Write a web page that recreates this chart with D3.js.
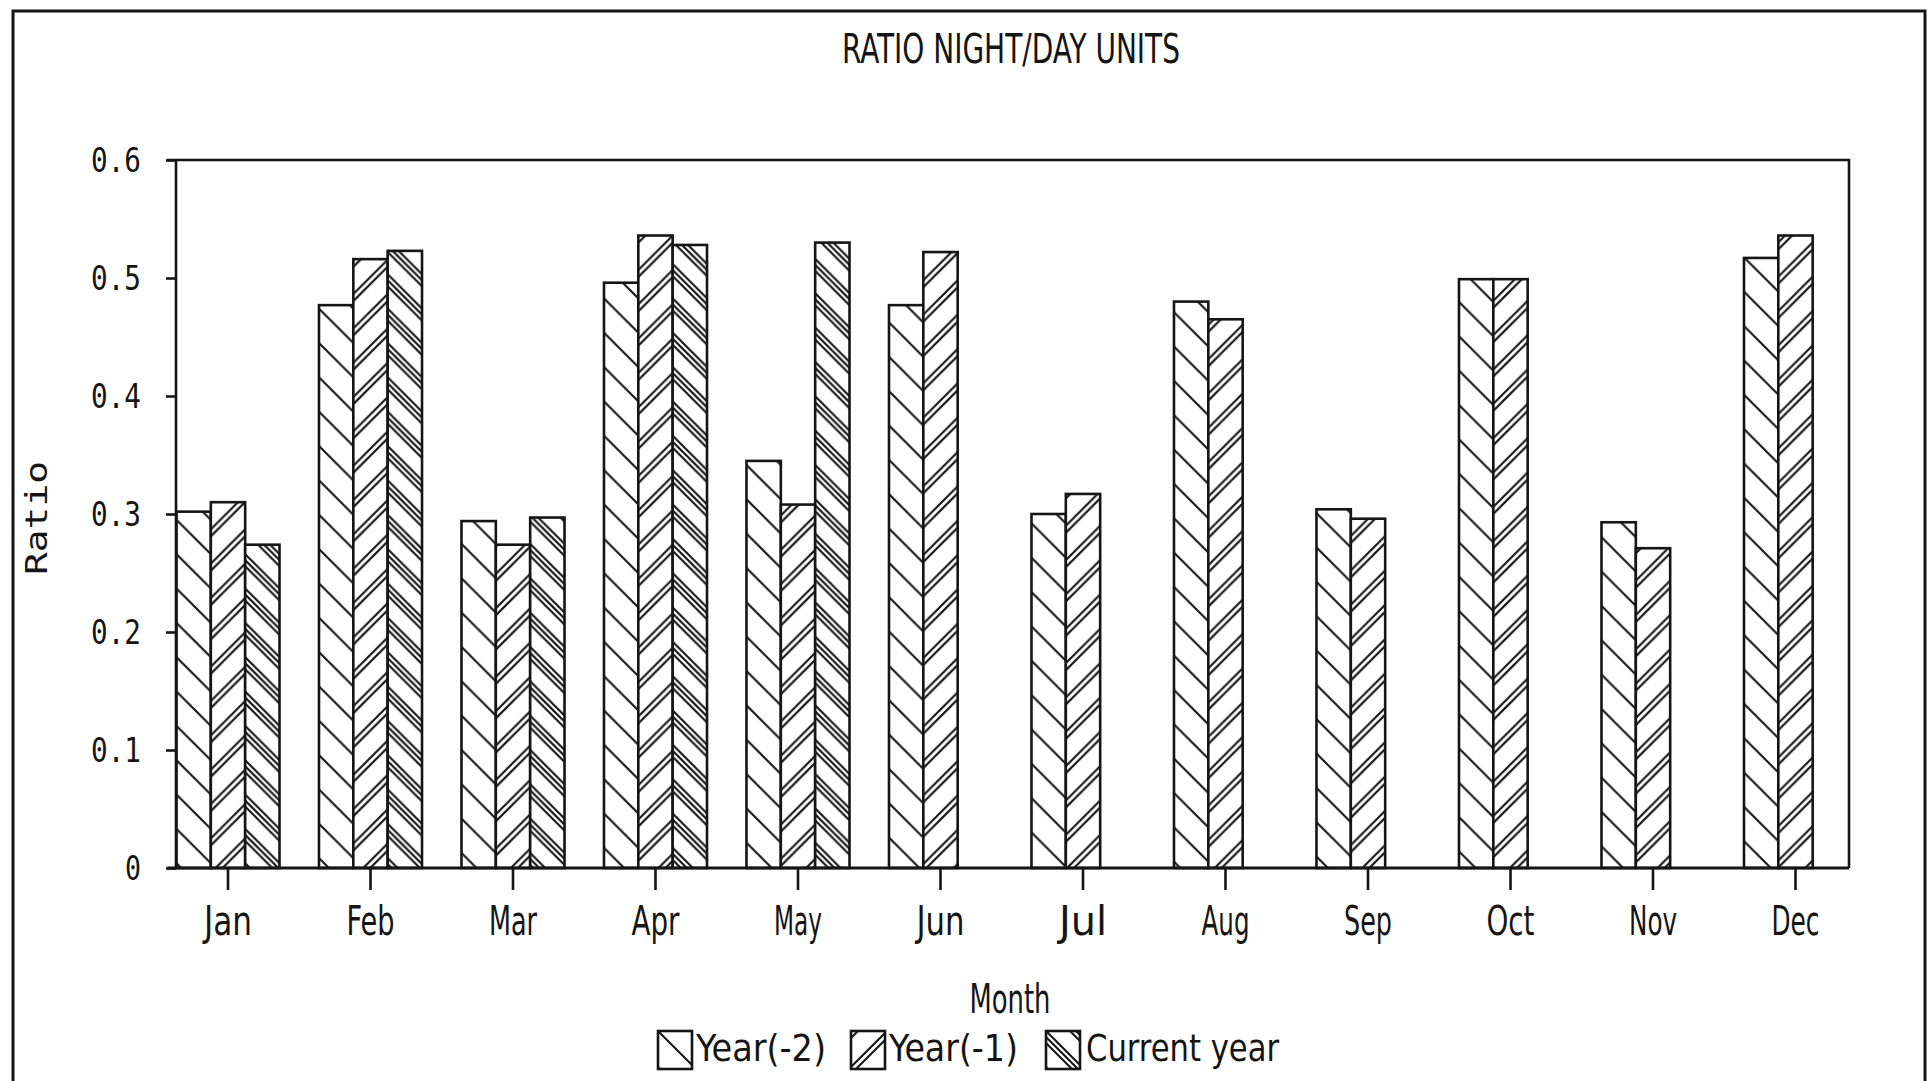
<!DOCTYPE html>
<html>
<head>
<meta charset="utf-8">
<script src="https://cdn.jsdelivr.net/npm/d3@7"></script>
<style>
  html, body { margin: 0; padding: 0; background: #fff; }
  svg { display: block; }
</style>
</head>
<body>
<svg id="chart" width="1928" height="1081"></svg>
<script>
// ---------------- DATA ----------------
const months = ["Jan","Feb","Mar","Apr","May","Jun","Jul","Aug","Sep","Oct","Nov","Dec"];
const seriesNames = ["Year(-2)","Year(-1)","Current year"];
const year2   = [0.302, 0.477, 0.294, 0.496, 0.345, 0.477, 0.300, 0.480, 0.304, 0.499, 0.293, 0.517];
const year1   = [0.310, 0.516, 0.274, 0.536, 0.308, 0.522, 0.317, 0.465, 0.296, 0.499, 0.271, 0.536];
const current = [0.274, 0.523, 0.297, 0.528, 0.530, null, null, null, null, null, null, null];
const yTickValues = [0, 0.1, 0.2, 0.3, 0.4, 0.5, 0.6];
const yTickLabels = ["0", "0.1", "0.2", "0.3", "0.4", "0.5", "0.6"];
const titleText = "RATIO NIGHT/DAY UNITS";
const xTitle = "Month";
const yTitle = "Ratio";

// ---------------- LAYOUT ----------------
const INK = "#151515";
const condFont = "'DejaVu Sans Condensed','Liberation Sans Narrow','Liberation Sans',sans-serif";
const monoFont = "'DejaVu Sans Mono','Liberation Mono',monospace";
const plot = { left: 176, right: 1849, top: 160, bottom: 868 };
const step = 142.5, firstCenter = 228;

const svg = d3.select("#chart");
const defs = svg.append("defs");

const seriesValues = [year2, year1, current];
const rows = months.map((m, i) => ({ month: m, vals: seriesValues.map((arr, s) => ({ s, v: arr[i], month: m })) }));

const x0 = d3.scaleBand()
  .domain(months)
  .range([firstCenter - step / 2, firstCenter - step / 2 + step * months.length])
  .paddingInner(0.277).paddingOuter(0.277 / 2);
const x1 = d3.scaleBand().domain(d3.range(seriesNames.length)).range([0, x0.bandwidth()]);
const y = d3.scaleLinear().domain([0, 0.6]).range([plot.bottom, plot.top]);

// pattern styles: direction (+1 "\" , -1 "/") and line offsets
const patStyles = [
  { dir: 1,  offsets: [0] },
  { dir: -1, offsets: [0, 7] },
  { dir: 1,  offsets: [0, 6, 12] }
];

function makePattern(id, s, ox, oy, P) {
  const st = patStyles[s];
  const pat = defs.append("pattern")
    .attr("id", id)
    .attr("patternUnits", "userSpaceOnUse")
    .attr("x", ox).attr("y", oy)
    .attr("width", P).attr("height", P);
  pat.append("rect").attr("width", P).attr("height", P).attr("fill", "#fff");
  let d = "";
  for (let k = -2; k <= 3; k++) {
    st.offsets.forEach(o => {
      const c = k * P + o;
      const xa = -P, xb = 2 * P;
      d += `M${xa},${st.dir * xa + c}L${xb},${st.dir * xb + c}`;
    });
  }
  pat.append("path").attr("d", d).attr("stroke", INK).attr("stroke-width", 2.1).attr("fill", "none");
}

// ---------------- OUTER BORDER ----------------
svg.append("path")
  .attr("d", "M13,1081 L13,11 L1925,11 L1925,1081")
  .attr("fill", "none").attr("stroke", INK).attr("stroke-width", 3);

// ---------------- TITLE ----------------
svg.append("text")
  .attr("x", 1011).attr("y", 63)
  .attr("text-anchor", "middle")
  .attr("font-family", condFont).attr("font-size", 40)
  .attr("textLength", 338).attr("lengthAdjust", "spacingAndGlyphs")
  .attr("fill", INK)
  .text(titleText);

// ---------------- BARS ----------------
const bw = x1.bandwidth();
const groups = svg.append("g").selectAll("g")
  .data(rows).join("g")
  .attr("transform", d => `translate(${x0(d.month)},0)`);

groups.selectAll("rect")
  .data(d => d.vals.filter(e => e.v !== null))
  .join("rect")
  .each(function (e) {
    const bx = x0(e.month) + x1(e.s);
    const id = `pat-${e.month}-${e.s}`;
    makePattern(id, e.s, bx, plot.bottom, bw);
    d3.select(this).attr("fill", `url(#${id})`);
  })
  .attr("x", e => x1(e.s))
  .attr("y", e => y(e.v))
  .attr("width", bw)
  .attr("height", e => y(0) - y(e.v))
  .attr("stroke", INK).attr("stroke-width", 2.6);

// ---------------- FRAME / AXES ----------------
svg.append("path")
  .attr("d", `M167,${plot.top} L${plot.right},${plot.top} L${plot.right},${plot.bottom}`)
  .attr("fill", "none").attr("stroke", INK).attr("stroke-width", 2.6);
svg.append("line")
  .attr("x1", plot.left).attr("x2", plot.left)
  .attr("y1", plot.top).attr("y2", plot.bottom)
  .attr("stroke", INK).attr("stroke-width", 2.6);
svg.append("line")
  .attr("x1", 167).attr("x2", plot.right)
  .attr("y1", plot.bottom).attr("y2", plot.bottom)
  .attr("stroke", INK).attr("stroke-width", 3);

const yAxis = d3.axisLeft(y)
  .tickValues(yTickValues)
  .tickFormat((d, i) => yTickLabels[i])
  .tickSize(10).tickSizeOuter(0).tickPadding(24);
const gy = svg.append("g").attr("transform", `translate(${plot.left},0)`).call(yAxis);
gy.select(".domain").remove();
gy.selectAll(".tick line").attr("stroke", INK).attr("stroke-width", 2.6);
gy.selectAll(".tick text")
  .attr("font-family", monoFont).attr("font-size", 33)
  .attr("fill", INK)
  .attr("x", -35)
  .attr("dy", "0.36em")
  .each(function (d, i) {
    if (yTickLabels[i].length > 1) d3.select(this).attr("textLength", 50).attr("lengthAdjust", "spacingAndGlyphs");
    else d3.select(this).attr("textLength", 16).attr("lengthAdjust", "spacingAndGlyphs");
  });

const xAxis = d3.axisBottom(x0).tickSize(22).tickSizeOuter(0);
const gx = svg.append("g").attr("transform", `translate(0,${plot.bottom})`).call(xAxis);
gx.select(".domain").remove();
gx.selectAll(".tick line").attr("stroke", INK).attr("stroke-width", 2.6);
gx.selectAll(".tick text")
  .attr("font-family", condFont).attr("font-size", 40)
  .attr("fill", INK)
  .attr("y", 67).attr("dy", 0)
  .attr("textLength", 48).attr("lengthAdjust", "spacingAndGlyphs");

// ---------------- AXIS TITLES ----------------
svg.append("text")
  .attr("x", 1010).attr("y", 1013)
  .attr("text-anchor", "middle")
  .attr("font-family", condFont).attr("font-size", 40)
  .attr("textLength", 81).attr("lengthAdjust", "spacingAndGlyphs")
  .attr("fill", INK)
  .text(xTitle);

svg.append("text")
  .attr("transform", "translate(47,518) rotate(-90)")
  .attr("text-anchor", "middle")
  .attr("font-family", monoFont).attr("font-size", 31)
  .attr("textLength", 114).attr("lengthAdjust", "spacingAndGlyphs")
  .attr("fill", INK)
  .text(yTitle);

// ---------------- LEGEND ----------------
const legendItems = [
  { s: 0, bx: 658, tx: 696, tw: 130 },
  { s: 1, bx: 851, tx: 889, tw: 129 },
  { s: 2, bx: 1046, tx: 1086, tw: 193 }
];
const lg = svg.append("g");
legendItems.forEach(it => {
  const id = `leg-pat-${it.s}`;
  makePattern(id, it.s, it.bx, 1031, 36);
  lg.append("rect")
    .attr("x", it.bx).attr("y", 1031)
    .attr("width", 34).attr("height", 38)
    .attr("fill", `url(#${id})`)
    .attr("stroke", INK).attr("stroke-width", 2.6);
  lg.append("text")
    .attr("x", it.tx).attr("y", 1061)
    .attr("font-family", condFont).attr("font-size", 38)
    .attr("textLength", it.tw).attr("lengthAdjust", "spacingAndGlyphs")
    .attr("fill", INK)
    .text(seriesNames[it.s]);
});
</script>
</body>
</html>
